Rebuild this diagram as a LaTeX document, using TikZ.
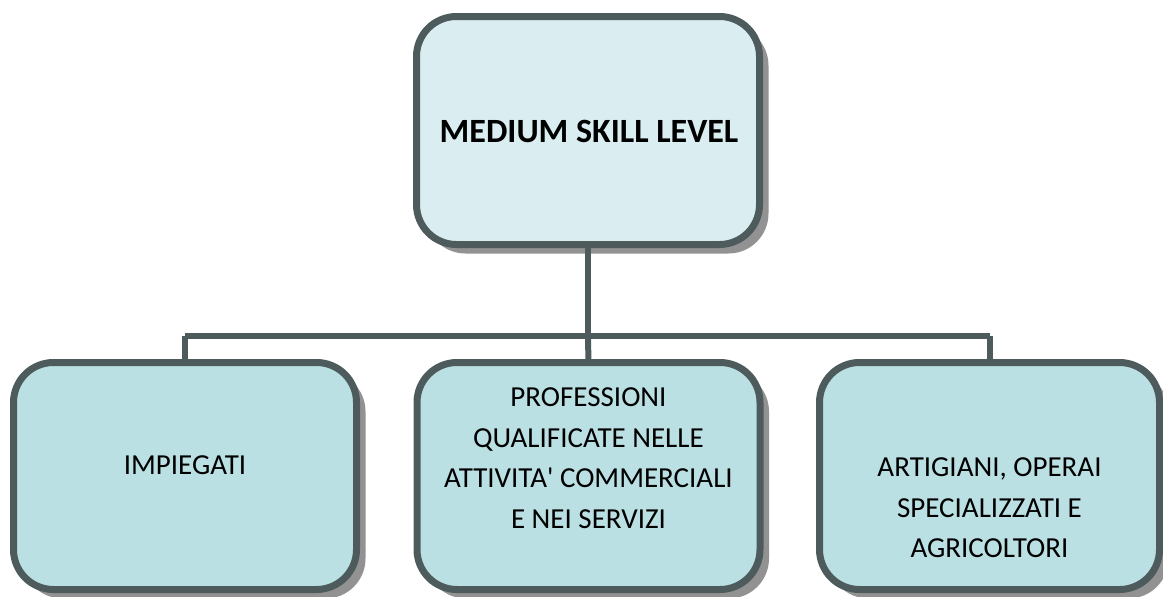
\documentclass[tikz,border=0pt]{standalone}
\usepackage{fontspec}
\newfontfamily\calfont{Carlito}
\definecolor{bordc}{HTML}{4E5B5C}
\definecolor{topfill}{HTML}{DAEEF1}
\definecolor{botfill}{HTML}{BAE0E3}
\definecolor{shadc}{HTML}{929292}
\tikzset{
  box/.style={draw=bordc, line width=7pt, rounded corners=40pt, inner sep=0pt},
  topbox/.style={box, fill=topfill, minimum width=343pt, minimum height=228pt},
  botbox/.style={box, fill=botfill, minimum width=343pt, minimum height=227pt},
  shad/.style={fill=shadc, rounded corners=40pt},
  conn/.style={draw=bordc, line width=6pt},
  lbl/.style={align=center, font=\calfont\fontsize{29}{40.5}\selectfont, text=black},
}
\begin{document}
\begin{tikzpicture}[x=1pt,y=-1pt]
\useasboundingbox (0,0) rectangle (1163,597);
% coordinates for connectors
\coordinate (top) at (588,130.5);
\coordinate (jl) at (185,336);
\coordinate (jm) at (588,336);
\coordinate (jr) at (990,336);
% shadows
\fill[shad] (416.5+9,16.5+9) rectangle (759.5+9,244.5+9);
\fill[shad] (13.5+9,362.5+9) rectangle (356.5+9,589.5+9);
\fill[shad] (417+9,362.5+9) rectangle (760+9,589.5+9);
\fill[shad] (819.5+9,362.5+9) rectangle (1159.5+9,589.5+9);
% connectors
\draw[conn] (top) -- (jm);
\draw[conn] (jl) -- (jr);
\draw[conn] (jl) -- (185,365);
\draw[conn] (jm) -- (588.5,365);
\draw[conn] (jr) -- (990,365);
% boxes
\node[topbox] (ms) at (588,130.5) {};
\node[botbox] (imp) at (185,476) {};
\node[botbox] (prof) at (588.5,476) {};
\node[botbox, minimum width=340pt] (art) at (989.5,476) {};
% texts
\node[font=\calfont\fontsize{34}{40}\selectfont\bfseries] (mst) at (589,131) {MEDIUM SKILL LEVEL};
\node[lbl] (impt) at (185,465) {IMPIEGATI};
\node[lbl] (proft) at (588.5,458) {PROFESSIONI\\QUALIFICATE NELLE\\ATTIVITA' COMMERCIALI\\E NEI SERVIZI};
\node[lbl] (artt) at (989.5,508) {ARTIGIANI, OPERAI\\SPECIALIZZATI E\\AGRICOLTORI};
\end{tikzpicture}
\end{document}
